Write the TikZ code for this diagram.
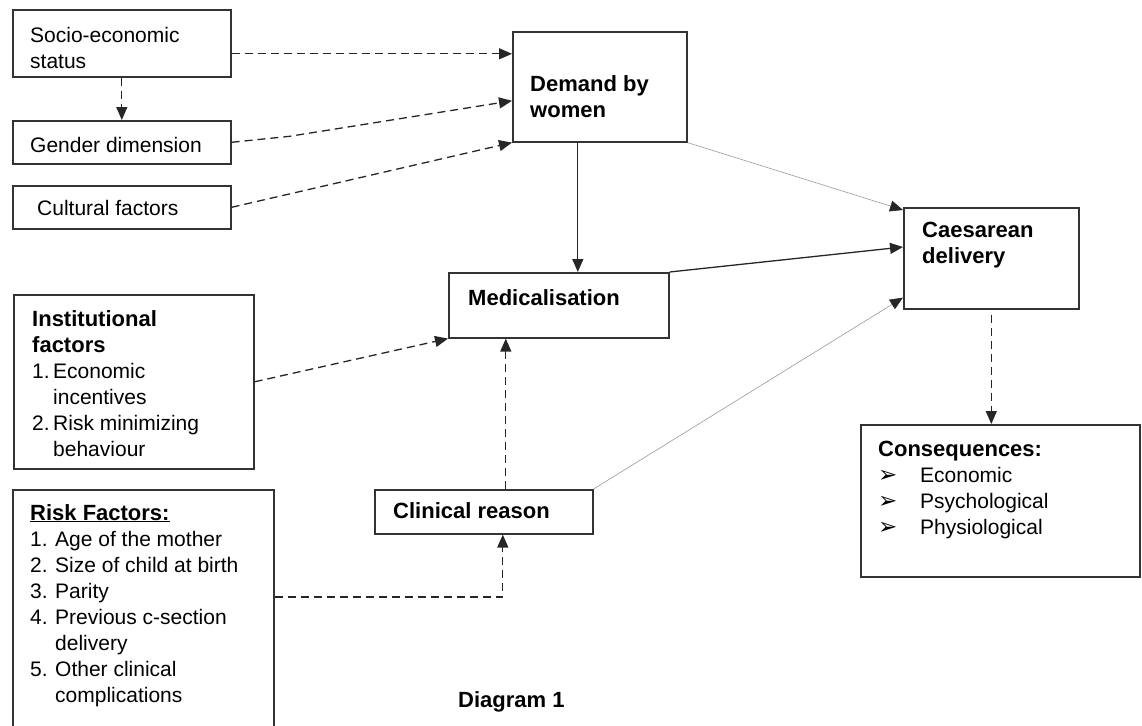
\documentclass[tikz,border=0pt]{standalone}
\usepackage{fontspec}
\setmainfont{Liberation Sans}
\newfontfamily\symfont{DejaVu Sans}
\usetikzlibrary{arrows.meta,positioning,calc}

\begin{document}
\begin{tikzpicture}[x=1pt, y=-1pt,
    box/.style={rectangle, draw=black!80, line width=1.6pt, inner sep=0pt, anchor=north west},
    txt/.style={anchor=base west, inner sep=0pt, align=left, font=\fontsize{21}{26}\selectfont},
    head/.style={txt, font=\fontsize{22}{26}\selectfont\bfseries},
    arrow/.style={-{Triangle[length=13pt,width=11pt]}, line width=1.3pt, draw=black!85},
    dasharrow/.style={arrow, dash pattern=on 8pt off 5pt},
    thinarrow/.style={-{Triangle[length=13pt,width=11pt,color=black!85]}, line width=0.6pt, draw=black!40},
]
    \useasboundingbox (0,0) rectangle (1142,725);
    \clip (0,0) rectangle (1142,725);

    % boxes
    \node[box, minimum width=218pt, minimum height=67pt] (socio) at (12,9) {};
    \node[box, minimum width=218pt, minimum height=43pt] (gender) at (12,120) {};
    \node[box, minimum width=218pt, minimum height=43pt] (cultural) at (12,185) {};
    \node[box, minimum width=174pt, minimum height=110pt] (demand) at (512,31) {};
    \node[box, minimum width=220pt, minimum height=65pt] (medical) at (448,272) {};
    \node[box, minimum width=175pt, minimum height=101pt] (caes) at (903,207) {};
    \node[box, minimum width=240pt, minimum height=174pt] (instit) at (13,294) {};
    \node[box, minimum width=261pt, minimum height=260pt] (risk) at (12,489) {};
    \node[box, minimum width=218pt, minimum height=44pt] (clinical) at (374,489) {};
    \node[box, minimum width=279pt, minimum height=152pt] (conseq) at (860,424) {};

    % texts (anchored at the baseline of their last line)
    \node[txt] (sociotxt) at (30,68) {Socio-economic\\status};
    \node[txt] (gendertxt) at (30,152) {Gender dimension};
    \node[txt] (culturaltxt) at (37,215) {Cultural factors};
    \node[head] (demandtxt) at (530,117) {Demand by\\women};
    \node[head] (medicaltxt) at (468,305) {Medicalisation};
    \node[head] (caestxt) at (922,263) {Caesarean\\delivery};
    \node[head] (clinicaltxt) at (393,518) {Clinical reason};
    \node[txt] (instittxt) at (32,456) {\textbf{\fontsize{22}{26}\selectfont Institutional}\\
        \textbf{\fontsize{22}{26}\selectfont factors}\\
        1.\,Economic\\\hphantom{1.\,}incentives\\
        2.\,Risk minimizing\\\hphantom{2.\,}behaviour};
    \node[txt] (risktxt) at (30,702) {\textbf{\fontsize{22}{26}\selectfont\underline{Risk Factors:}}\\
        \makebox[25pt][l]{1.}Age of the mother\\
        \makebox[25pt][l]{2.}Size of child at birth\\
        \makebox[25pt][l]{3.}Parity\\
        \makebox[25pt][l]{4.}Previous c-section\\
        \makebox[25pt][l]{}delivery\\
        \makebox[25pt][l]{5.}Other clinical\\
        \makebox[25pt][l]{}complications};
    \node[txt] (conseqtxt) at (878,534) {\textbf{\fontsize{22}{26}\selectfont Consequences:}\\
        \makebox[42pt][l]{\symfont\fontsize{23}{26}\selectfont ➢}Economic\\
        \makebox[42pt][l]{\symfont\fontsize{23}{26}\selectfont ➢}Psychological\\
        \makebox[42pt][l]{\symfont\fontsize{23}{26}\selectfont ➢}Physiological};
    \node[head] (caption) at (458,707) {Diagram 1};

    % connectors
    \draw[dasharrow] (socio.south) -- (gender.north);
    \draw[dasharrow] ([yshift=-10.5pt]socio.east) -- ([yshift=-10.5pt]socio.east -| demand.west);
    \draw[dasharrow] (gender.east) -- ++(58,-6) -- ([yshift=-14pt]demand.west);
    \draw[dasharrow] (cultural.east) -- (demand.south west);
    \draw[arrow] ([xshift=-22pt]demand.south) -- ([xshift=-22pt]demand.south |- medical.north);
    \draw[thinarrow] (demand.south east) -- ([yshift=-3pt]caes.north west);
    \draw[arrow] (medical.north east) -- ([yshift=-40pt]caes.north west);
    \draw[thinarrow] (clinical.north east) -- ([yshift=12pt]caes.south west);
    \draw[dasharrow] (instit.east) -- (medical.south west);
    \draw[dasharrow] ([xshift=22pt]clinical.north) -- ([xshift=22pt]clinical.north |- medical.south);
    \draw[dasharrow] ([yshift=-108pt]risk.north east) -| ([xshift=19pt]clinical.south);
    \draw[dasharrow, shorten <=5pt] (caes.south) -- (caes.south |- conseq.north);
\end{tikzpicture}
\end{document}
